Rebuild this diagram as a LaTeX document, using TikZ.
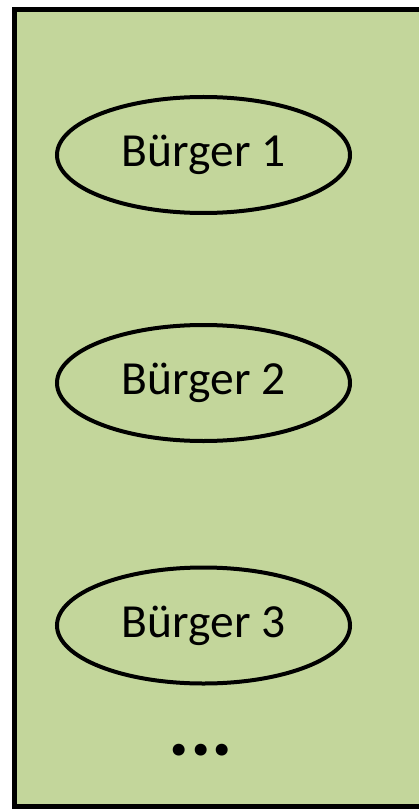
\documentclass[tikz,border=0pt]{standalone}
\usepackage{fontspec}
\setmainfont{Carlito}
\usetikzlibrary{shapes.geometric}
\definecolor{boxgreen}{HTML}{C3D69B}
\tikzset{
  burger/.style={draw=black, line width=4pt, ellipse, minimum width=293pt, minimum height=116pt, inner sep=0pt, font=\fontsize{47.5}{56}\selectfont},
  frame/.style={draw=black, fill=boxgreen, line width=5pt},
}
\begin{document}
\begin{tikzpicture}[x=1pt,y=-1pt]
\useasboundingbox (0,0) rectangle (419,810);
\path[frame] (14.5,9.5) rectangle (430,806.5);
\node[burger] (b1) at (203.5,155) {Bürger 1};
\node[burger] (b2) at (203.5,383) {Bürger 2};
\node[burger] (b3) at (203.5,625.5) {Bürger 3};
\node[font=\fontsize{80}{90}\selectfont\bfseries, inner sep=0pt] (dots) at (201,750) {.\hspace{0pt}.\hspace{0pt}.};
\end{tikzpicture}
\end{document}
